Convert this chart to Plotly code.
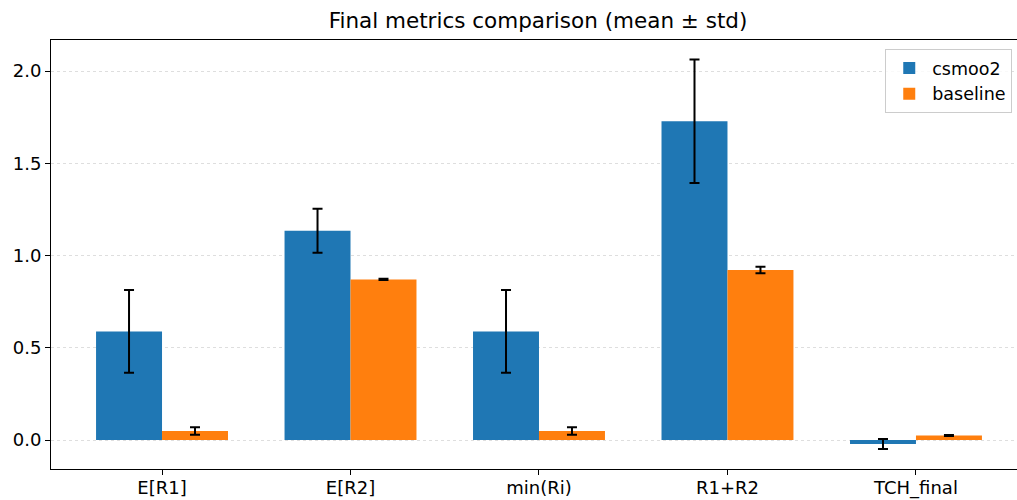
import plotly.graph_objects as go

categories = ["E[R1]", "E[R2]", "min(Ri)", "R1+R2", "TCH_final"]
csmoo2_mean = [0.589, 1.135, 0.589, 1.728, -0.022]
csmoo2_std = [0.224, 0.119, 0.224, 0.335, 0.027]
baseline_mean = [0.049, 0.871, 0.049, 0.922, 0.025]
baseline_std = [0.020, 0.003, 0.020, 0.017, 0.003]

font_family = "DejaVu Sans"
x_idx = list(range(len(categories)))

fig = go.Figure()
fig.add_trace(go.Bar(
    x=x_idx, y=csmoo2_mean, name="csmoo2",
    marker=dict(color="#1f77b4", line=dict(width=0)),
    error_y=dict(type="data", array=csmoo2_std, visible=True,
                 color="black", thickness=2, width=5),
))
fig.add_trace(go.Bar(
    x=x_idx, y=baseline_mean, name="baseline",
    marker=dict(color="#ff7f0e", line=dict(width=0)),
    error_y=dict(type="data", array=baseline_std, visible=True,
                 color="black", thickness=2, width=5),
))

fig.update_layout(
    width=1017, height=500,
    margin=dict(l=51, r=0, t=40, b=31, pad=0, autoexpand=False),
    paper_bgcolor="white", plot_bgcolor="white",
    barmode="group", bargap=0.3, bargroupgap=0,
    font=dict(family=font_family, size=18, color="black"),
    title=dict(text="Final metrics comparison (mean ± std)",
               x=538/1017, xanchor="center", y=1 - 20/500, yanchor="middle",
               font=dict(size=21.5, family=font_family, color="black")),
    legend=dict(x=1012/1017, xanchor="right", y=1 - 9/429, yanchor="top",
                xref="paper", yref="paper",
                bgcolor="rgba(255,255,255,0.8)", bordercolor="#cccccc", borderwidth=1,
                font=dict(size=17.5, family=font_family),
                itemwidth=36, tracegroupgap=2),
    showlegend=True,
)

fig.update_xaxes(
    range=[-0.589, 4.536], automargin=False,
    tickmode="array", tickvals=x_idx, ticktext=categories,
    showline=True, linecolor="black", linewidth=1, mirror=True,
    ticks="outside", ticklen=5, tickcolor="black", tickwidth=1,
    ticklabelstandoff=-3,
    showgrid=False, zeroline=False,
    tickfont=dict(size=18, family=font_family),
)
fig.update_yaxes(
    range=[-0.157, 2.169], automargin=False,
    tickmode="array", tickvals=[0.0, 0.5, 1.0, 1.5, 2.0],
    ticktext=["0.0", "0.5", "1.0", "1.5", "2.0"],
    showline=True, linecolor="black", linewidth=1, mirror=False,
    ticks="outside", ticklen=5, tickcolor="black", tickwidth=1,
    showgrid=True, gridcolor="rgba(0,0,0,0.13)", griddash="dot", gridwidth=1,
    zeroline=False,
    tickfont=dict(size=18, family=font_family),
)

fig.write_html("out.html")
